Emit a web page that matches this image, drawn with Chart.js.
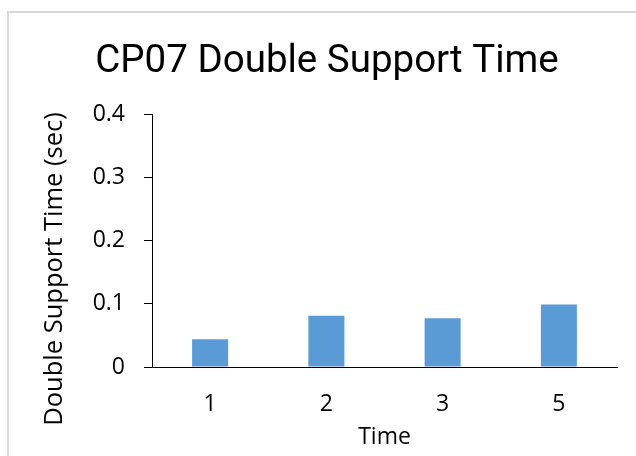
<!DOCTYPE html>
<html lang="en">
<head>
<meta charset="UTF-8">
<title>CP07 Double Support Time</title>
<script src="https://cdn.jsdelivr.net/npm/chart.js"></script>
<style>
  body { margin: 0; background: #fff; }
  .wrap { position: relative; width: 636px; height: 456px; overflow: hidden; }
  .frame { position: absolute; left: 7px; top: 11px; width: 700px; height: 500px; border: 2px solid #d9d9d9; }
  canvas { position: absolute; left: 0; top: 0; }
</style>
</head>
<body>
<div class="wrap">
  <div class="frame"></div>
  <canvas id="chart" width="636" height="456"></canvas>
</div>
<script>
// data
const categories = ['1', '2', '3', '5'];
const supportTime = [0.044, 0.081, 0.077, 0.099];
const yMin = 0;
const yMax = 0.4;
const yStep = 0.1;
const chartTitle = 'CP07 Double Support Time';
const xTitle = 'Time';
const yTitle = 'Double Support Time (sec)';

const FONT = '"Open Sans", sans-serif';
const TITLE_FONT = 'Roboto, "Open Sans", sans-serif';

// y axis title drawn by hand so it can sit where Excel put it
const yTitlePlugin = {
  id: 'yTitle',
  afterDraw(chart) {
    const ctx = chart.ctx;
    ctx.save();
    ctx.translate(55, 269);
    ctx.rotate(-Math.PI / 2);
    ctx.font = '25.5px ' + FONT;
    ctx.fillStyle = '#000';
    ctx.textAlign = 'center';
    ctx.textBaseline = 'middle';
    ctx.fillText(yTitle, 0, 0);
    ctx.restore();
  }
};

new Chart(document.getElementById('chart'), {
  type: 'bar',
  data: {
    labels: categories,
    datasets: [{
      data: supportTime,
      backgroundColor: '#5b9bd5',
      borderWidth: 0,
      categoryPercentage: 1,
      barPercentage: 0.31
    }]
  },
  options: {
    responsive: false,
    animation: false,
    devicePixelRatio: 1,
    layout: { padding: { left: 37, right: 19, top: 0, bottom: 0 } },
    plugins: {
      legend: { display: false },
      tooltip: { enabled: false },
      title: {
        display: true,
        text: chartTitle,
        color: '#000',
        font: { family: TITLE_FONT, size: 38.5, weight: 'normal' },
        padding: { top: 39, bottom: 29 }
      }
    },
    scales: {
      x: {
        grid: { display: true, drawOnChartArea: false, drawTicks: false },
        border: { color: '#000', width: 1 },
        ticks: { color: '#000', font: { family: FONT, size: 23 }, padding: 24 },
        title: {
          display: true,
          text: xTitle,
          color: '#000',
          font: { family: FONT, size: 23 },
          padding: { top: 0, bottom: 5 }
        },
        afterFit(scale) { scale.height = 89; }
      },
      y: {
        min: yMin,
        max: yMax,
        grid: { drawOnChartArea: false, drawTicks: true, tickLength: 8, color: '#000' },
        border: { color: '#000', width: 1 },
        ticks: { stepSize: yStep, color: '#000', font: { family: FONT, size: 23 }, padding: 19 },
        afterFit(scale) { scale.width = 115; }
      }
    }
  },
  plugins: [yTitlePlugin]
});
</script>
</body>
</html>
